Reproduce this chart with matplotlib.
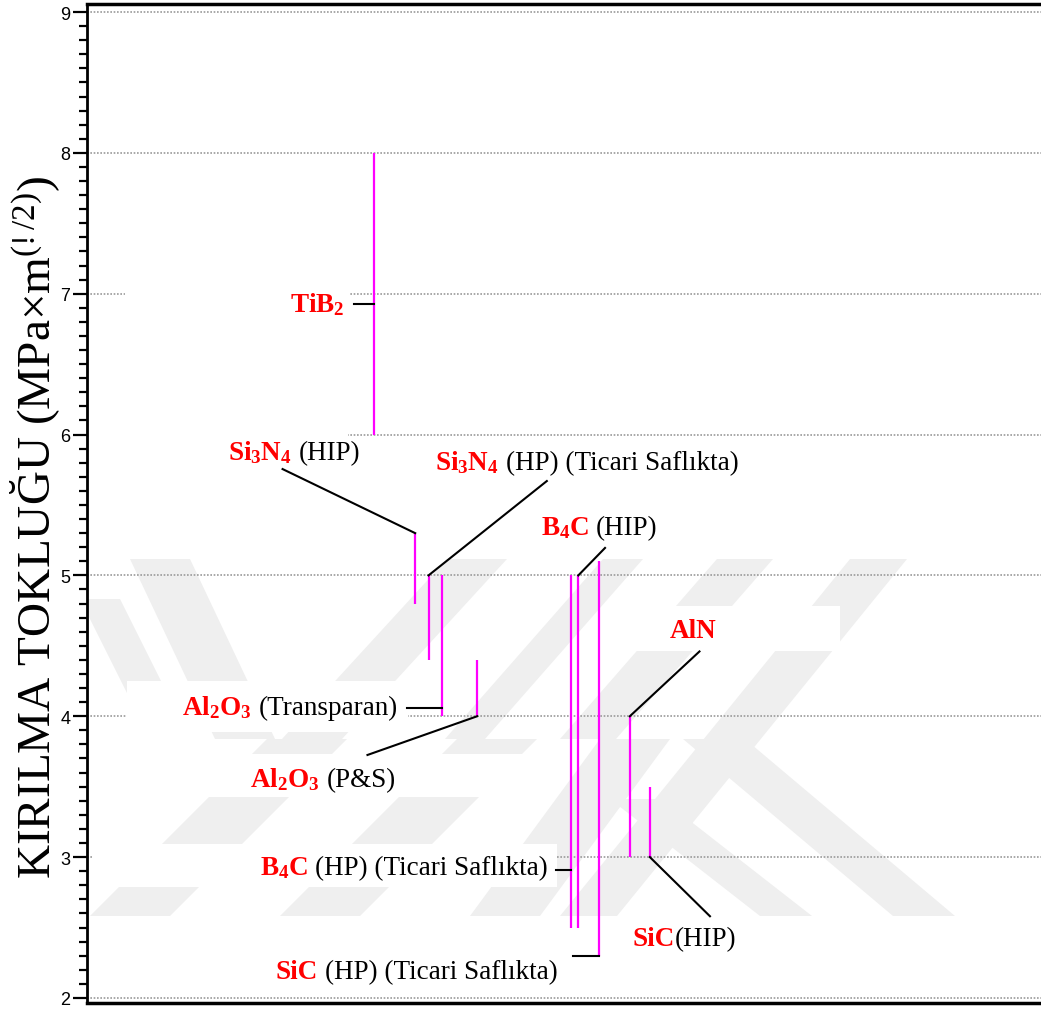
import matplotlib.pyplot as plt
from matplotlib.offsetbox import TextArea, HPacker, AnnotationBbox
from matplotlib.patches import Polygon, Rectangle
from matplotlib.ticker import MultipleLocator

plt.rcParams['mathtext.fontset'] = 'custom'
plt.rcParams['mathtext.rm'] = 'Liberation Serif'
plt.rcParams['mathtext.it'] = 'Liberation Serif:italic'
plt.rcParams['mathtext.bf'] = 'Liberation Serif:bold'

# toughness ranges (MPa*m^1/2)
names_red = ['TiB$_\\mathbf{2}$', 'Si$_\\mathbf{3}$N$_\\mathbf{4}$', 'Si$_\\mathbf{3}$N$_\\mathbf{4}$',
             'Al$_\\mathbf{2}$O$_\\mathbf{3}$', 'Al$_\\mathbf{2}$O$_\\mathbf{3}$', 'B$_\\mathbf{4}$C',
             'B$_\\mathbf{4}$C', 'SiC', 'AlN', 'SiC']
names_black = ['', '(HIP)', '(HP) (Ticari Saflıkta)', '(Transparan)', '(P&S)',
               '(HP) (Ticari Saflıkta)', '(HIP)', '(HP) (Ticari Saflıkta)', '', '(HIP)']
x_pos = [30.1, 34.4, 35.8, 37.2, 40.9, 50.7, 51.5, 53.7, 56.9, 59.0]
low = [6.0, 4.8, 4.4, 4.0, 4.0, 2.5, 2.5, 2.3, 3.0, 3.0]
high = [8.0, 5.3, 5.0, 5.0, 4.4, 5.0, 5.0, 5.1, 4.0, 3.5]

# label layout: where the leader touches the bar, where it ends, where the text sits
anchor_y = [6.93, 5.3, 5.0, 4.06, 4.0, 2.91, 5.0, 2.30, 4.0, 3.0]
leader_end = [(28.0, 6.93), (20.5, 5.755), (48.2, 5.67), (33.5, 4.06), (29.4, 3.725),
              (49.2, 2.91), (54.3, 5.195), (50.9, 2.30), (64.2, 4.46), (65.3, 2.58)]
text_pos = [(27.0, 6.93, 'r'), (14.8, 5.88, 'l'), (36.5, 5.81, 'l'), (32.6, 4.07, 'r'),
            (17.1, 3.555, 'l'), (48.3, 2.93, 'r'), (47.6, 5.34, 'l'), (19.8, 2.19, 'l'),
            (61.1, 4.61, 'l'), (57.2, 2.42, 'l')]
gap = [0, 5, 5, 5, 5, 5, 5, 5, 0, 0]
# white text boxes (x0, x1, y0, y1)
boxes = [(4.0, 27.6, 6.77, 7.07), (0.1, 27.4, 5.67, 6.04), (35.4, 69.0, 5.63, 5.97),
         (4.2, 33.6, 3.89, 4.25), (0.1, 49.1, 3.43, 3.73), (0.6, 49.3, 2.79, 3.09),
         (46.4, 77.9, 5.20, 5.52), (19.2, 50.1, 2.05, 2.35), (55.1, 78.9, 4.46, 4.78),
         (56.6, 69.0, 2.26, 2.58)]

fig = plt.figure(figsize=(10.41, 10.12), dpi=100)
ax = fig.add_axes([87 / 1041, 8 / 1012, 954 / 1041, 999 / 1012])

ax.set_xlim(0, 100)
ax.set_ylim(1.964, 9.057)

ax.spines['right'].set_visible(False)
ax.spines['left'].set_linewidth(2)
ax.spines['top'].set_linewidth(2.5)
ax.spines['bottom'].set_linewidth(2.5)

ax.set_xticks([])
ax.yaxis.set_major_locator(MultipleLocator(1))
ax.yaxis.set_minor_locator(MultipleLocator(0.1))
ax.tick_params(axis='y', which='major', length=10, width=1.6, labelsize=13, pad=2)
ax.tick_params(axis='y', which='minor', length=6, width=1.6)
for t in ax.get_yticklabels():
    t.set_family('Liberation Sans')

# faint background watermark (stripes, figure pixels from top-left)
def stripe(top_y, bot_y, top_x, bot_x, w):
    pts = [(top_x, top_y), (top_x + w, top_y), (bot_x + w, bot_y), (bot_x, bot_y)]
    return [(px / 1041, 1 - py / 1012) for px, py in pts]

stripes = [
    (560, 740, 130, 215, 60), (600, 700, 80, 130, 40), (560, 740, 447, 282, 60),
    (560, 740, 603, 445, 40), (560, 740, 717, 560, 56),
    (560, 917, 850, 560, 57), (740, 917, 683, 893, 62), (800, 917, 610, 760, 52),
    (740, 917, 267, 90, 80), (740, 917, 457, 280, 80), (740, 917, 600, 470, 70),
]
for s in stripes:
    ax.add_patch(Polygon(stripe(*s), closed=True, transform=fig.transFigure,
                         facecolor='#efefef', edgecolor='none', zorder=0))

for v in range(2, 10):
    ax.axhline(v, color='#9a9a9a', lw=1.2, ls=(0, (1, 1)), zorder=1)

for x0, x1, y0, y1 in boxes:
    ax.add_patch(Rectangle((x0, y0), x1 - x0, y1 - y0, facecolor='white',
                           edgecolor='none', zorder=2))

ax.vlines(x_pos, low, high, color='#ff00ff', lw=1.6, zorder=3)

for i in range(len(x_pos)):
    ex, ey = leader_end[i]
    ax.plot([x_pos[i], ex], [anchor_y[i], ey], color='black', lw=1.5, zorder=4)

    tx, ty, side = text_pos[i]
    parts = [TextArea(names_red[i], textprops=dict(color='#ff0000', fontweight='bold',
                                                   family='Liberation Serif', size=19.5))]
    if names_black[i]:
        parts.append(TextArea(names_black[i], textprops=dict(color='black',
                                                             family='Liberation Serif', size=19.5)))
    box = HPacker(children=parts, align='baseline', pad=0, sep=gap[i])
    ab = AnnotationBbox(box, (tx, ty), xycoords='data',
                        box_alignment=(0 if side == 'l' else 1, 0.5),
                        frameon=False, zorder=5)
    ax.add_artist(ab)

ax.set_ylabel('KIRILMA TOKLUĞU (MPa×m$^{\\mathrm{(!/2)}}$)', family='Liberation Serif', fontsize=34)
ax.yaxis.set_label_coords(-0.026, 0.477)

fig.savefig('out.png', dpi=100)
